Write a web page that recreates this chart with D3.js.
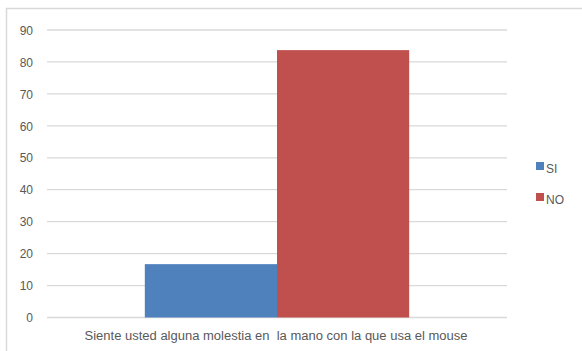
<!DOCTYPE html>
<html><head><meta charset="utf-8">
<script src="https://cdn.jsdelivr.net/npm/d3@7"></script>
<style>body{margin:0;background:#fff}svg{display:block}</style>
</head><body>
<svg id="c" width="582" height="351"></svg>
<script>
const categories = ["Siente usted alguna molestia en  la mano con la que usa el mouse"];
const seriesNames = ["SI", "NO"];
const siValues = [16.7];
const noValues = [83.7];
const yTicks = [0, 10, 20, 30, 40, 50, 60, 70, 80, 90];
const colors = ["#4f81bd", "#c0504d"];

const svg = d3.select("#c");
const font = "'Liberation Sans', Arial, sans-serif";

// chart border
svg.append("path").attr("d", "M6.5,351 V8.5 H582")
  .attr("fill", "none").attr("stroke", "#d9d9d9").attr("stroke-width", 1.5);

const x0 = d3.scaleBand().domain(categories).range([47, 507]).paddingInner(0).paddingOuter(0.37);
const x1 = d3.scaleBand().domain(seriesNames).range([0, x0.bandwidth()]);
const y = d3.scaleLinear().domain([0, 90]).range([317.5, 30]);

// gridlines
svg.append("g").selectAll("line").data(yTicks).join("line")
  .attr("x1", 47).attr("x2", 507)
  .attr("y1", d => y(d)).attr("y2", d => y(d))
  .attr("stroke", "#d9d9d9").attr("stroke-width", 1.3);

// y axis labels
const yAxis = d3.axisLeft(y).tickValues(yTicks).tickSize(0).tickPadding(0);
const gy = svg.append("g").attr("transform", "translate(33,0)").call(yAxis);
gy.select(".domain").remove();
gy.selectAll("text").attr("font-family", font).attr("font-size", 12).attr("fill", "#595959").attr("dy", "0.35em");

// bars
const data = categories.map((c, i) => ({c, vals: [siValues[i], noValues[i]]}));
const g = svg.append("g");
data.forEach(d => {
  d.vals.forEach((v, j) => {
    g.append("rect")
      .attr("x", x0(d.c) + x1(seriesNames[j]))
      .attr("width", x1.bandwidth())
      .attr("y", y(v))
      .attr("height", y(0) - y(v))
      .attr("fill", colors[j]);
  });
});

// x axis label
svg.append("text").attr("x", 276).attr("y", 340)
  .attr("text-anchor", "middle").attr("font-family", font).attr("font-size", 12)
  .attr("fill", "#595959").attr("textLength", 383).attr("lengthAdjust", "spacingAndGlyphs")
  .style("white-space", "pre")
  .text(categories[0]);

// legend
const lg = svg.append("g");
seriesNames.forEach((s, i) => {
  const yy = 162 + i * 31;
  lg.append("rect").attr("x", 536).attr("y", yy).attr("width", 8).attr("height", 8).attr("fill", colors[i]);
  lg.append("text").attr("x", 546).attr("y", yy + 10.5).attr("font-family", font).attr("font-size", 12)
    .attr("fill", "#595959").text(s);
});
</script>
</body></html>
